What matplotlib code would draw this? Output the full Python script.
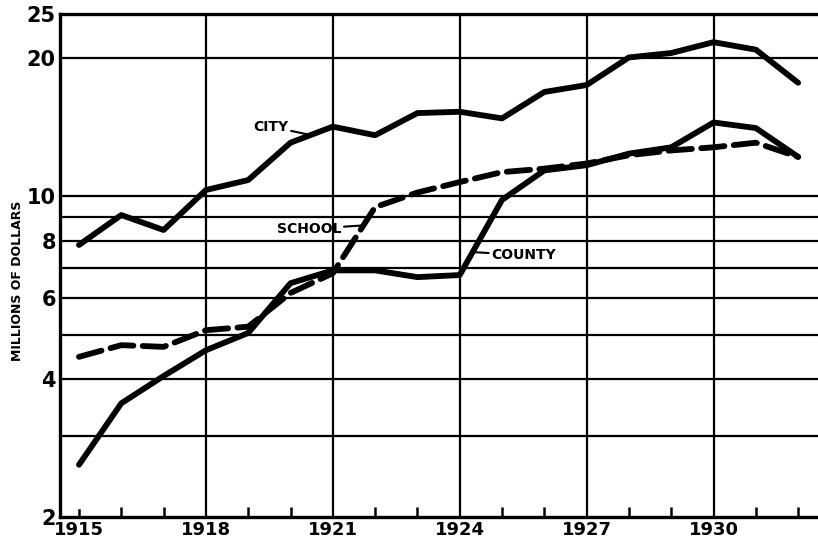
import numpy as np
import matplotlib
matplotlib.use("Agg")
import matplotlib.pyplot as plt
from matplotlib.ticker import FixedLocator, NullFormatter

years = list(range(1915, 1933))
city = [7.84, 9.11, 8.45, 10.33, 10.86, 13.1, 14.2, 13.6, 15.2, 15.3, 14.8, 16.9, 17.5, 20.1, 20.55, 21.7, 20.9, 17.7]
county = [2.6, 3.54, 4.06, 4.62, 5.04, 6.47, 6.9, 6.9, 6.67, 6.74, 9.83, 11.4, 11.7, 12.4, 12.8, 14.5, 14.1, 12.2]
school = [4.47, 4.74, 4.7, 5.11, 5.2, 6.16, 6.8, 9.48, 10.2, 10.75, 11.3, 11.5, 11.8, 12.3, 12.6, 12.8, 13.1, 12.2]

y_grid = [3, 4, 5, 6, 7, 8, 9, 10, 20]
y_ticks = [2, 4, 6, 8, 10, 20, 25]
y_ticklabels = ["2", "4", "6", "8", "10", "20", "25"]
x_major = [1918, 1921, 1924, 1927, 1930]
x_labels_years = [1915, 1918, 1921, 1924, 1927, 1930]

FONT = ["Liberation Sans Narrow", "DejaVu Sans"]

fig = plt.figure(figsize=(8.18, 5.44), dpi=100)
ax = fig.add_axes([0.0733, 0.0496, 0.9267, 0.9247])
ax.set_yscale("log")
ax.set_ylim(2, 25)
ax.set_xlim(1914.55, 1932.47)

for v in y_grid:
    ax.axhline(v, color="black", lw=1.6, zorder=1)
for xv in x_major:
    ax.axvline(xv, color="black", lw=1.6, zorder=1)

ax.plot(years, city, color="black", lw=4.2, solid_joinstyle="round", solid_capstyle="round", zorder=3)
ax.plot(years, county, color="black", lw=4.2, solid_joinstyle="round", solid_capstyle="round", zorder=3)
ax.plot(years, school, color="black", lw=4.2, dashes=(4, 1.6), dash_capstyle="round", zorder=3)

ax.yaxis.set_major_locator(FixedLocator(y_ticks))
ax.yaxis.set_minor_locator(FixedLocator([]))
ax.set_yticklabels(y_ticklabels)
ax.yaxis.set_minor_formatter(NullFormatter())
ax.tick_params(axis="y", length=0, pad=3)
for lab in ax.get_yticklabels():
    lab.set_fontfamily(FONT)
    lab.set_fontsize(15)
    lab.set_fontweight("bold")

ax.xaxis.set_major_locator(FixedLocator(x_labels_years))
ax.set_xticklabels([str(y) for y in x_labels_years])
ax.xaxis.set_minor_locator(FixedLocator([y for y in years if y not in x_labels_years]))
ax.tick_params(axis="x", which="major", length=0, pad=3)
ax.tick_params(axis="x", which="minor", direction="in", length=7, width=1.8)
for lab in ax.get_xticklabels():
    lab.set_fontfamily(FONT)
    lab.set_fontsize(13)
    lab.set_fontweight("bold")
ax.plot([1915, 1915], [2, 2.07], color="black", lw=1.8, zorder=2)

for s in ["left", "bottom", "top"]:
    ax.spines[s].set_linewidth(2.4)
ax.spines["right"].set_visible(False)

ax.set_ylabel("MILLIONS OF DOLLARS", fontsize=9, fontweight="bold", family=FONT)
ax.yaxis.set_label_coords(-0.047, 0.47)

ann_kw = dict(fontsize=10, fontweight="bold", family=FONT, ha="right", va="center",
              arrowprops=dict(arrowstyle="-", color="black", lw=1.5, shrinkA=0, shrinkB=0))
ax.annotate("CITY", xy=(1920.5, 13.6), xytext=(1919.95, 14.2), **ann_kw)
ax.annotate("SCHOOL", xy=(1921.75, 8.65), xytext=(1921.2, 8.5), **ann_kw)
kw2 = dict(ann_kw)
kw2["ha"] = "left"
ax.annotate("COUNTY", xy=(1924.35, 7.56), xytext=(1924.75, 7.45), **kw2)

fig.savefig("out.png", dpi=100)
